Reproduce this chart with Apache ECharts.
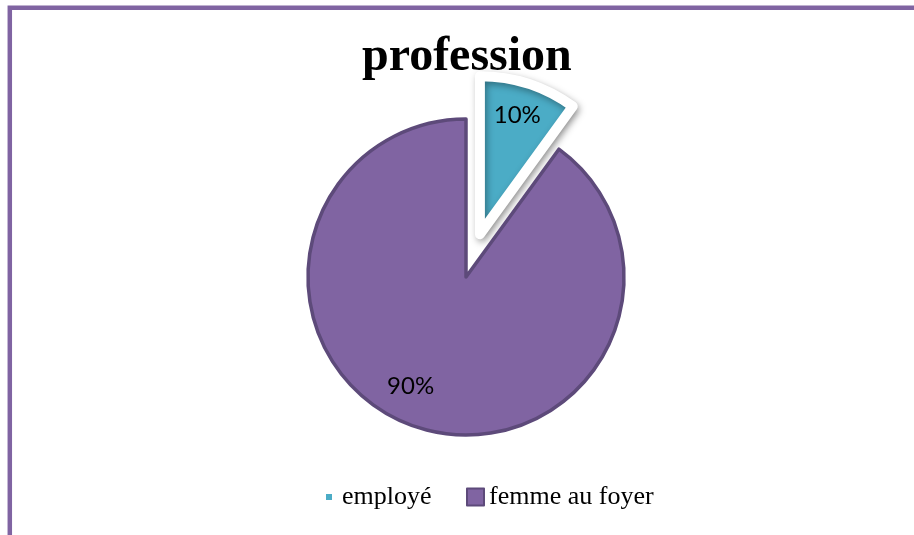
<!DOCTYPE html>
<html>
<head>
<meta charset="utf-8">
<script src="https://cdn.jsdelivr.net/npm/echarts@6/dist/echarts.min.js"></script>
<style>html,body{margin:0;padding:0;background:#fff;}#c{width:914px;height:535px;}</style>
</head>
<body>
<div id="c"></div>
<script>
const titleText = 'profession';
const categories = ['employé', 'femme au foyer'];
const values = [10, 90];
const colors = ['#4BACC6', '#8064A2'];
// label nudges (relative to default inside position)
const labelNudge = [[12, -41], [-30, 31]];

const chart = echarts.init(document.getElementById('c'), null, {renderer: 'canvas'});
const seriesData = categories.map((name, i) => ({
  name: name,
  value: values[i],
  selected: i === 0,
  itemStyle: i === 0 ? {
    color: colors[0], borderColor: '#ffffff', borderWidth: 10,
    shadowBlur: 7, shadowColor: 'rgba(0,0,0,0.35)', shadowOffsetX: 2, shadowOffsetY: 3
  } : {
    color: colors[1], borderColor: '#5D4A7A', borderWidth: 3.5
  }
}));

chart.setOption({
  animation: false,
  backgroundColor: '#ffffff',
  title: {
    text: titleText,
    left: 357,
    top: 29,
    textStyle: {fontFamily: 'Liberation Serif', fontWeight: 'bold', fontSize: 48, color: '#000'}
  },
  legend: [{
    data: [categories[0]],
    left: 321, top: 479,
    icon: 'rect', itemWidth: 6, itemHeight: 6,
    itemStyle: {borderWidth: 0, shadowBlur: 0},
    selectedMode: false,
    textStyle: {fontFamily: 'Liberation Serif', fontSize: 26, color: '#000', padding: [0, 0, 0, 5]}
  }, {
    data: [categories[1]],
    left: 461, top: 479,
    icon: 'rect', itemWidth: 17, itemHeight: 17,
    itemStyle: {borderWidth: 2, borderColor: '#5D4A7A'},
    selectedMode: false,
    textStyle: {fontFamily: 'Liberation Serif', fontSize: 26, color: '#000'}
  }],
  graphic: [{
    type: 'polyline',
    shape: {points: [[9.8, 535], [9.8, 7.7], [914, 7.7]]},
    style: {stroke: '#8064A2', lineWidth: 4.5, fill: null}
  }],
  series: [{
    type: 'pie',
    center: [466, 277],
    radius: [0, 158],
    startAngle: 90,
    clockwise: true,
    selectedMode: 'single',
    selectedOffset: 45,
    avoidLabelOverlap: false,
    label: {
      show: true,
      position: 'inside',
      formatter: '{d}%',
      fontFamily: 'Lato',
      fontSize: 24,
      color: '#000',
      textBorderWidth: 0
    },
    labelLine: {show: false},
    labelLayout: function (p) {
      const n = labelNudge[p.dataIndex];
      return {dx: n[0], dy: n[1]};
    },
    emphasis: {disabled: true},
    data: seriesData
  }]
});
</script>
</body>
</html>
